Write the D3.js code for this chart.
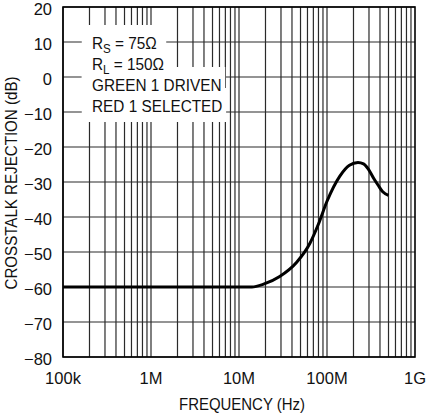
<!DOCTYPE html>
<html>
<head>
<meta charset="utf-8">
<style>
  body { margin: 0; background: #fff; }
  text { font-family: Arial, "Liberation Sans", sans-serif; fill: #111; }
</style>
</head>
<body>
<script src="https://d3js.org/d3.v7.min.js"></script>
<script>
// curve: frequency (Hz) and crosstalk rejection (dB)
var freqHz = [1e5, 1e6, 1e7, 1.4e7, 1.9e7, 2.9e7, 4.5e7, 6.4e7, 8.0e7, 1.0e8, 1.4e8, 1.8e8, 2.25e8, 2.6e8, 2.95e8, 3.4e8, 3.83e8, 4.3e8, 5.0e8];
var rejectionDb = [-60, -60, -60, -60, -59.2, -57, -53, -47.5, -42, -35.5, -28.3, -25.2, -24.4, -24.8, -26.3, -29, -31, -32.8, -33.8];

var xTicks = [1e5, 1e6, 1e7, 1e8, 1e9];
var xTickLabels = ["100k", "1M", "10M", "100M", "1G"];
var yTicks = [20, 10, 0, -10, -20, -30, -40, -50, -60, -70, -80];

var noteLines = [
  [{t: "R"}, {t: "S", sub: true}, {t: " = 75\u03a9"}],
  [{t: "R"}, {t: "L", sub: true}, {t: " = 150\u03a9"}],
  [{t: "GREEN 1 DRIVEN"}],
  [{t: "RED 1 SELECTED"}]
];

var W = 435, H = 416;
var margin = {top: 7, right: 20, bottom: 59, left: 63};
var width = W - margin.left - margin.right;
var height = H - margin.top - margin.bottom;

var svg = d3.select("body").append("svg")
    .attr("width", W)
    .attr("height", H);

var g = svg.append("g")
    .attr("transform", "translate(" + margin.left + "," + margin.top + ")");

var x = d3.scaleLog().domain([1e5, 1e9]).range([0, width]);
var y = d3.scaleLinear().domain([-80, 20]).range([height, 0]);

// minor + major vertical grid
var vGrid = [];
for (var dec = 1e5; dec < 1e9; dec *= 10) {
  for (var m = 1; m <= 9; m++) vGrid.push(dec * m);
}
g.append("g").selectAll("line").data(vGrid).enter().append("line")
    .attr("x1", function(d) { return x(d); })
    .attr("x2", function(d) { return x(d); })
    .attr("y1", 0).attr("y2", height)
    .attr("stroke", "#2a2a2a").attr("stroke-width", 1.2);

g.append("g").selectAll("line").data(yTicks).enter().append("line")
    .attr("x1", 0).attr("x2", width)
    .attr("y1", function(d) { return y(d); })
    .attr("y2", function(d) { return y(d); })
    .attr("stroke", "#2a2a2a").attr("stroke-width", 1.2);

// note block, each line knocked out of the grid
var note = g.append("g")
    .attr("transform", "translate(29,0) scale(0.93,1)");
var baselines = [42, 63, 84, 105];
noteLines.forEach(function(parts, i) {
  var bg = note.append("rect").attr("fill", "#fff");
  var t = note.append("text")
      .attr("x", 0).attr("y", baselines[i])
      .style("font-size", "16.5px");
  parts.forEach(function(p) {
    if (p.sub) {
      t.append("tspan").attr("dy", 4).style("font-size", "12.5px").text(p.t);
    } else {
      var ts = t.append("tspan").text(p.t);
      if (t.selectAll("tspan").size() > 1) ts.attr("dy", -4);
    }
  });
  var bb = t.node().getBBox();
  var padR = i < 2 ? 10 : 4;
  bg.attr("x", -11).attr("width", bb.width + 11 + padR)
    .attr("y", baselines[i] - 24).attr("height", 34);
});
note.selectAll("text").raise();

// curve
var line = d3.line()
    .x(function(d) { return x(d[0]); })
    .y(function(d) { return y(d[1]); })
    .curve(d3.curveMonotoneX);

g.append("path")
    .datum(d3.zip(freqHz, rejectionDb))
    .attr("fill", "none")
    .attr("stroke", "#000")
    .attr("stroke-width", 3)
    .attr("stroke-linejoin", "round")
    .attr("d", line);

// frame
g.append("rect")
    .attr("width", width).attr("height", height)
    .attr("fill", "none").attr("stroke", "#000").attr("stroke-width", 1.6);

// axes labels
g.append("g").selectAll("text").data(yTicks).enter().append("text")
    .attr("x", -11)
    .attr("y", function(d) { return y(d) + 8; })
    .attr("text-anchor", "end")
    .style("font-size", "16.5px")
    .text(function(d) { return d < 0 ? "\u2212" + Math.abs(d) : d; });

g.append("g").selectAll("text").data(xTicks).enter().append("text")
    .attr("x", function(d) { return x(d); })
    .attr("y", height + 27)
    .attr("text-anchor", "middle")
    .style("font-size", "16.5px")
    .text(function(d, i) { return xTickLabels[i]; });

g.append("text")
    .attr("x", width / 2 + 3)
    .attr("y", height + 53)
    .attr("text-anchor", "middle")
    .attr("textLength", 126)
    .attr("lengthAdjust", "spacingAndGlyphs")
    .style("font-size", "16.5px")
    .text("FREQUENCY (Hz)");

svg.append("text")
    .attr("transform", "translate(17," + 183 + ") rotate(-90)")
    .attr("text-anchor", "middle")
    .attr("textLength", 213)
    .attr("lengthAdjust", "spacingAndGlyphs")
    .style("font-size", "16.5px")
    .text("CROSSTALK REJECTION (dB)");
</script>
</body>
</html>
